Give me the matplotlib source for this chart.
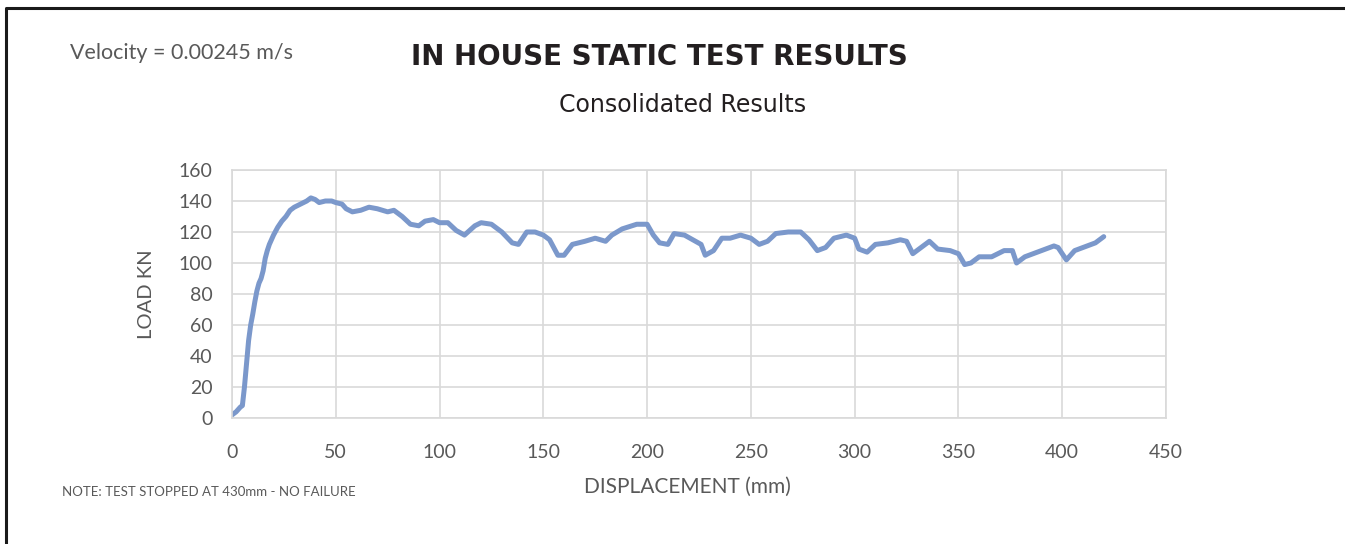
import matplotlib.pyplot as plt
from matplotlib.lines import Line2D

# displacement (mm) and load (kN)
disp = [0, 2, 4, 5, 6, 7, 8, 9, 10, 11, 12, 13, 14, 15, 16, 17, 18, 20, 22, 24,
        26, 28, 30, 33, 36, 38, 40, 42, 45, 48, 50, 53, 55, 58, 62, 66, 70, 75,
        78, 82, 86, 90, 93, 97, 100, 104, 108, 112, 117, 120, 125, 130, 135, 138,
        142, 146, 150, 153, 157, 160, 164, 170, 175, 180, 183, 188, 195, 200, 203,
        206, 210, 213, 218, 222, 226, 228, 232, 236, 240, 245, 250, 254, 258, 262,
        268, 274, 278, 282, 286, 290, 296, 300, 302, 306, 310, 316, 322, 325, 328,
        332, 336, 340, 346, 350, 353, 356, 360, 366, 372, 376, 378, 382, 388, 396,
        398, 402, 406, 412, 416, 420]
load = [2, 4, 7, 8, 20, 35, 50, 60, 67, 75, 82, 87, 90, 95, 103, 108, 112, 118, 123, 127,
        130, 134, 136, 138, 140, 142, 141, 139, 140, 140, 139, 138, 135, 133, 134, 136, 135, 133,
        134, 130, 125, 124, 127, 128, 126, 126, 121, 118, 124, 126, 125, 120, 113, 112,
        120, 120, 118, 115, 105, 105, 112, 114, 116, 114, 118, 122, 125, 125, 118,
        113, 112, 119, 118, 115, 112, 105, 108, 116, 116, 118, 116, 112, 114, 119,
        120, 120, 115, 108, 110, 116, 118, 116, 109, 107, 112, 113, 115, 114, 106,
        110, 114, 109, 108, 106, 99, 100, 104, 104, 108, 108, 100, 104, 107, 111,
        110, 102, 108, 111, 113, 117]

W, H = 1345, 544
fig = plt.figure(figsize=(W / 100, H / 100), dpi=100)
ax = fig.add_axes([232 / W, 1 - 418 / H, (1166 - 232) / W, (418 - 170) / H])

ax.plot(disp, load, color='#7B98CB', lw=3.6, solid_capstyle='round', solid_joinstyle='round')

ax.set_xlim(0, 450)
ax.set_ylim(0, 160)
ax.set_xticks(range(0, 451, 50))
ax.set_yticks(range(0, 161, 20))
ax.grid(True, color='#D9D9D9', lw=1.2)
ax.set_axisbelow(True)
for s in ax.spines.values():
    s.set_color('#D9D9D9')
    s.set_linewidth(1.2)
ax.tick_params(length=0, labelsize=14, labelcolor='#595959')
ax.tick_params(axis='x', pad=19)
ax.tick_params(axis='y', pad=14)
for lbl in ax.get_xticklabels() + ax.get_yticklabels():
    lbl.set_family('Lato')

fig.text(659 / W, 1 - 57 / H, 'IN HOUSE STATIC TEST RESULTS', ha='center', va='center',
         fontsize=20, fontweight='bold', family='DejaVu Sans', color='#231F20')
fig.text(683 / W, 1 - 105 / H, 'Consolidated Results', ha='center', va='center',
         fontsize=17, family='DejaVu Sans', color='#231F20')
fig.text(70 / W, 1 - 53 / H, 'Velocity = 0.00245 m/s', ha='left', va='center',
         fontsize=15.5, family='Lato', color='#595959')
fig.text(62 / W, 1 - 492 / H, 'NOTE: TEST STOPPED AT 430mm - NO FAILURE', ha='left', va='center',
         fontsize=9.5, family='Lato', color='#595959')
fig.text(687 / W, 1 - 487 / H, 'DISPLACEMENT (mm)', ha='center', va='center',
         fontsize=15, family='Lato', color='#595959')
fig.text(147 / W, 1 - 294 / H, 'LOAD KN', ha='center', va='center', rotation=90,
         fontsize=14.5, family='Lato', color='#595959')

# black frame on left and top
fig.add_artist(Line2D([6 / W, 6 / W, 1], [0, 1 - 8 / H, 1 - 8 / H],
                      transform=fig.transFigure, color='#1a1a1a', lw=2.2))

fig.savefig('out.png', dpi=100)
